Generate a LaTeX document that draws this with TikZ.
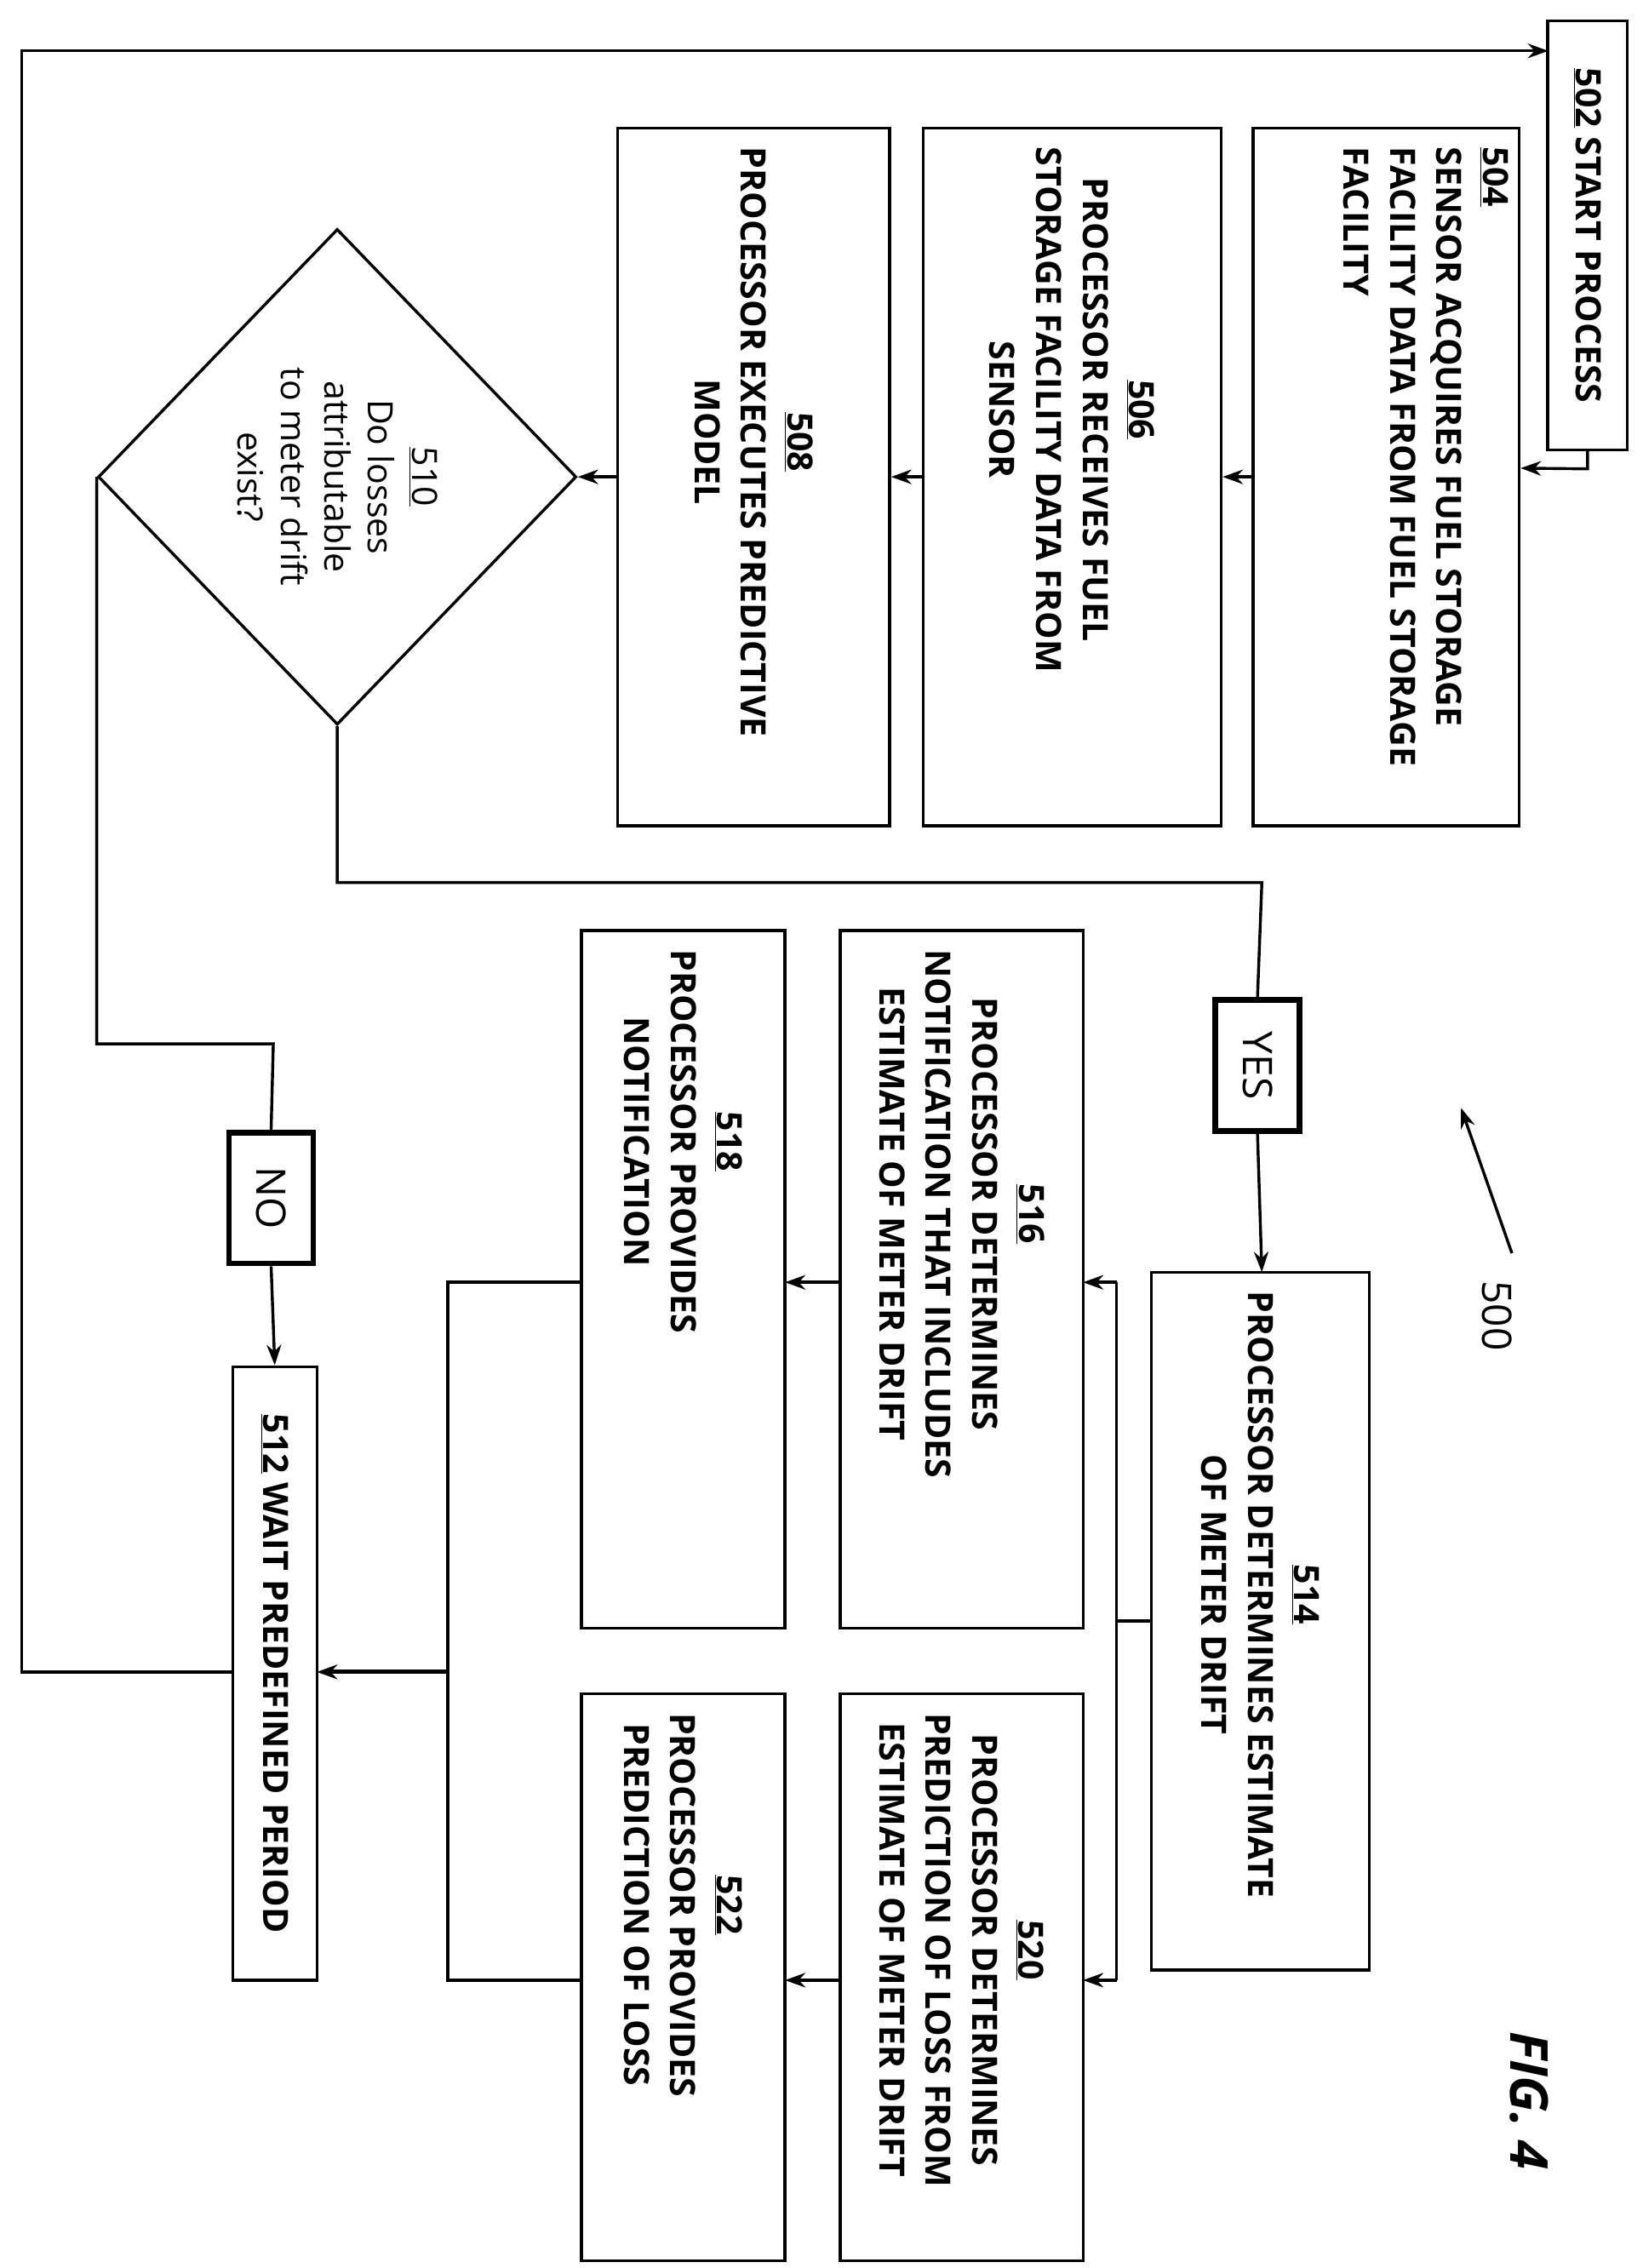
\documentclass[tikz,border=0pt]{standalone}
\usepackage{fontspec}
\setmainfont{Open Sans}
\usetikzlibrary{positioning}
\usetikzlibrary{calc}
\usetikzlibrary{shapes.geometric}
\usetikzlibrary{arrows.meta}
\tikzset{
	flowbox/.style={
		draw, line width=2pt, rotate=-90, inner sep=0pt, align=center,
		font=\fontsize{24}{32}\selectfont\bfseries
	},
	boxtext/.style={
		rotate=-90, anchor=west, inner sep=0pt, align=center,
		font=\fontsize{24}{32}\selectfont\bfseries
	},
	answer/.style={
		draw, line width=4pt, rotate=-90, inner sep=0pt, align=center,
		minimum width=90pt, minimum height=58pt,
		font=\fontsize{28}{32}\selectfont
	},
	flow/.style={
		line width=2pt, -{Stealth[length=14pt,width=10pt]}
	},
	plain/.style={
		line width=2pt
	}
}
\begin{document}
\begin{tikzpicture}[x=1pt,y=-1pt]
\useasboundingbox (0,0) rectangle (1130,1560);
\node[flowbox, minimum width=295pt, minimum height=55pt] (step502) at (1092,162) {\underline{502} START PROCESS};
\node[flowbox, minimum width=480pt, minimum height=183pt] (step504) at (953.5,328) {};
\node[flowbox, minimum width=480pt, minimum height=205pt] (step506) at (737.5,328) {};
\node[flowbox, minimum width=480pt, minimum height=187pt] (step508) at (518.5,328) {};
\node[flowbox, diamond, minimum width=341pt, minimum height=329pt, aspect=1, font=\fontsize{24}{30}\selectfont] (step510) at (232,328) {\underline{510}\\Do losses\\attributable\\to meter drift\\exist?};
\node[flowbox, minimum width=422pt, minimum height=58pt] (step512) at (189,1151) {\underline{512} WAIT PREDEFINED PERIOD};
\node[flowbox, minimum width=480pt, minimum height=150pt] (step514) at (867,1115) {};
\node[flowbox, minimum width=480pt, minimum height=167pt] (step516) at (661.5,880) {};
\node[flowbox, minimum width=390pt, minimum height=167pt] (step520) at (661.5,1360) {};
\node[flowbox, minimum width=480pt, minimum height=140pt] (step518) at (470,880) {};
\node[flowbox, minimum width=390pt, minimum height=140pt] (step522) at (470,1360) {};
% texts, set from the top of each box
\node[boxtext, align=left, anchor=north west] (text504) at ($(step504.north west)+(-8,14)$) {\underline{504}\\SENSOR ACQUIRES FUEL STORAGE\\FACILITY DATA FROM FUEL STORAGE\\FACILITY};
\node[boxtext] (text506) at ($(step506.west)+(0,14)$) {\underline{506}\\PROCESSOR RECEIVES FUEL\\STORAGE FACILITY DATA FROM\\SENSOR};
\node[boxtext] (text508) at ($(step508.west)+(0,14)$) {\underline{508}\\PROCESSOR EXECUTES PREDICTIVE\\MODEL};
\node[boxtext] (text514) at ($(step514.west)+(0,14)$) {\underline{514}\\PROCESSOR DETERMINES ESTIMATE\\OF METER DRIFT};
\node[boxtext] (text516) at ($(step516.west)+(0,14)$) {\underline{516}\\PROCESSOR DETERMINES\\NOTIFICATION THAT INCLUDES\\ESTIMATE OF METER DRIFT};
\node[boxtext] (text520) at ($(step520.west)+(0,14)$) {\underline{520}\\PROCESSOR DETERMINES\\PREDICTION OF LOSS FROM\\ESTIMATE OF METER DRIFT};
\node[boxtext] (text518) at ($(step518.west)+(0,14)$) {\underline{518}\\PROCESSOR PROVIDES\\NOTIFICATION};
\node[boxtext] (text522) at ($(step522.west)+(0,14)$) {\underline{522}\\PROCESSOR PROVIDES\\PREDICTION OF LOSS};
\node[answer] (yes) at (865,733) {YES};
\node[answer] (no) at (186.5,824) {NO};
\node[rotate=-90, font=\fontsize{28}{32}\selectfont] (lbl500) at (1030,905) {500};
\node[rotate=-90, font=\fontsize{36}{40}\selectfont\bfseries\itshape] (fig) at (1052,1445) {FIG. 4};
\coordinate (tip500) at (1005,762);
\draw[flow] (1040,862) -- (tip500);
% main chain
\draw[flow] (step502.east) -- ++(0,12) -- (step504.north |- {0,322});
\draw[flow] (step504.south) -- (step506.north);
\draw[flow] (step506.south) -- (step508.north);
\draw[flow] (step508.south) -- (step510.north);
% yes branch
\draw[plain] (step510.east) |- (868,607) -- (yes.west);
\draw[flow] (yes.east) -- (868,875);
% no branch
\draw[plain] (step510.south) |- (188,718) -- (no.west);
\draw[flow] (no.east) -- (step512.west);
% fan out
\draw[plain] (step514.south) -- (768,1115);
\draw[plain] (768,882) -- (768,1362);
\draw[flow] (768,882) -- (745,882);
\draw[flow] (768,1362) -- (745,1362);
\draw[flow] (578,882) -- (540,882);
\draw[flow] (578,1362) -- (540,1362);
% fan in
\draw[plain] (400,882) -| (308,1362) -- (400,1362);
\draw[flow, line width=3pt] (308,1150) -- (218,1150);
% loop
\draw[flow] (160,1150) -| (15,35) -- (1065,35);
\end{tikzpicture}
\end{document}
